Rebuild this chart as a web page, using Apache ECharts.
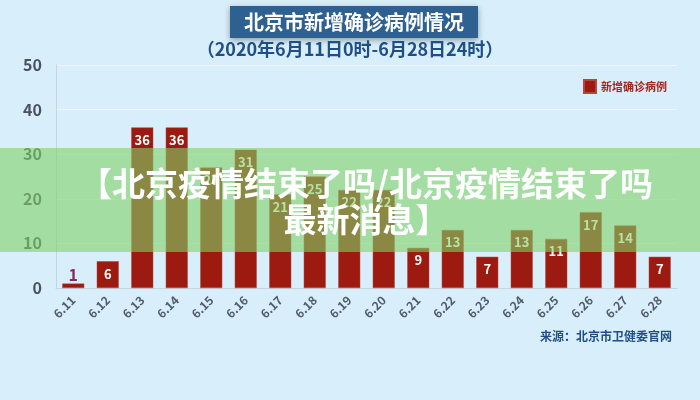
<!DOCTYPE html>
<html><head><meta charset="utf-8">
<script src="https://cdn.jsdelivr.net/npm/echarts@6/dist/echarts.min.js"></script>
<style>html,body{margin:0;padding:0;background:#d8eefa;}#c{width:700px;height:400px;}</style>
</head><body><div id="c"></div>
<script>
const categories = ['6.11','6.12','6.13','6.14','6.15','6.16','6.17','6.18','6.19','6.20','6.21','6.22','6.23','6.24','6.25','6.26','6.27','6.28'];
const newCases = [1,6,36,36,27,31,21,25,22,22,9,13,7,13,11,17,14,7];
const yTicks = [0,10,20,30,40,50];
const seriesName = '新增确诊病例';
const titleText = '北京市新增确诊病例情况';
const subtitleText = '（2020年6月11日0时-6月28日24时）';
const sourceText = '来源：北京市卫健委官网';
const overlayText = '【北京疫情结束了吗/北京疫情结束了吗\n最新消息】';

const FONT = '"Noto Sans CJK SC", "Noto Sans", sans-serif';
const chart = echarts.init(document.getElementById('c'));
const barData = newCases.map(function (v, i) {
  if (v < 3) {
    return { value: v, label: { position: 'top', color: '#8a2a5e', distance: 1, fontSize: 16 } };
  }
  return v;
});
chart.setOption({
  backgroundColor: '#d8eefa',
  animation: false,
  textStyle: { fontFamily: FONT },
  grid: { left: 56, right: 23, top: 65, bottom: 112 },
  legend: {
    data: [{ name: seriesName, icon: 'rect' }], right: 28, top: 74, itemWidth: 12, itemHeight: 13, itemGap: 8,
    textStyle: { color: '#a3261e', fontWeight: 'bold', fontSize: 11, fontFamily: FONT }
  },
  xAxis: {
    type: 'category', data: categories,
    axisLine: { lineStyle: { color: '#c5d3de' } },
    axisTick: { show: false },
    axisLabel: { rotate: 45, color: '#535c6a', fontSize: 12, fontWeight: 'bold', margin: 10, fontFamily: FONT }
  },
  yAxis: {
    type: 'value', min: yTicks[0], max: yTicks[yTicks.length - 1], interval: 10,
    axisLine: { show: true, lineStyle: { color: '#c5d3de' } },
    axisTick: { show: false },
    splitLine: { lineStyle: { color: '#eef5fa', width: 1 } },
    axisLabel: { color: '#4a525e', fontSize: 16, fontWeight: 'bold', margin: 14, fontFamily: FONT }
  },
  series: [{
    name: seriesName, type: 'bar', data: barData, barWidth: 22,
    itemStyle: { color: '#9c1a10', borderColor: '#b8453d', borderWidth: 0.5 },
    label: { show: true, position: 'insideTop', distance: 6, color: '#ffffff', fontWeight: 'bold', fontSize: 13, fontFamily: FONT }
  }],
  graphic: [
    { type: 'rect', shape: { x: 230, y: 6, width: 248, height: 32 }, z: 10,
      style: { fill: '#2e6190', shadowBlur: 6, shadowColor: 'rgba(0,0,0,0.35)', shadowOffsetY: 2 } },
    { type: 'text', x: 354, y: 22, z: 11,
      style: { text: titleText, fill: '#ffffff', font: 'bold 20px ' + FONT, textAlign: 'center', textVerticalAlign: 'middle' } },
    { type: 'text', x: 350, y: 49, z: 11,
      style: { text: subtitleText, fill: '#1f4f87', font: 'bold 18px ' + FONT, textAlign: 'center', textVerticalAlign: 'middle' } },
    { type: 'text', right: 28, top: 330, z: 11,
      style: { text: sourceText, fill: '#1f4f87', font: 'bold 12px ' + FONT } },
    { type: 'rect', shape: { x: 0, y: 148, width: 700, height: 104 }, z: 100,
      style: { fill: 'rgba(128,210,104,0.6)' } },
    { type: 'text', x: 366, y: 201, z: 101,
      style: { text: overlayText, fill: '#ffffff', font: 'bold 33px ' + FONT, textAlign: 'center', textVerticalAlign: 'middle', lineHeight: 36 } }
  ]
});
</script></body></html>
